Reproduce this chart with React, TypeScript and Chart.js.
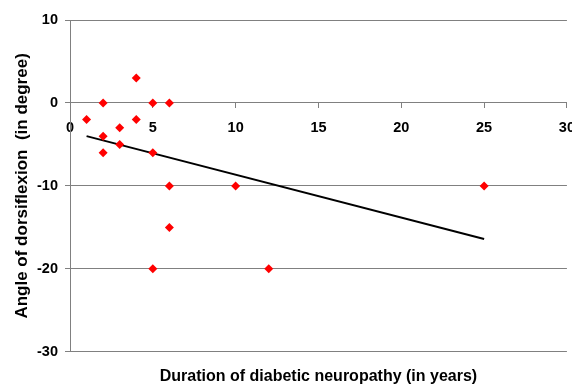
import React, { useEffect, useRef } from "react";
import { Chart, registerables } from "chart.js";

Chart.register(...registerables);

const durationYears = [1, 2, 2, 2, 3, 3, 4, 4, 5, 5, 6, 6, 10, 6, 5, 12, 25];
const dorsiflexionAngle = [-2, 0, -4, -6, -3, -5, 3, -2, 0, -6, 0, -10, -10, -15, -20, -20, -10];
const trendX = [1, 25];
const trendY = [-4.0, -16.4];
const xTicks = [0, 5, 10, 15, 20, 25, 30];
const yTicks = [10, 0, -10, -20, -30];

const FONT = "Arial, 'Liberation Sans', sans-serif";

export default function App() {
  const ref = useRef<HTMLCanvasElement | null>(null);
  useEffect(() => {
    if (!ref.current) return;
    const chart = new Chart(ref.current, {
      type: "scatter",
      data: {
        datasets: [
          {
            label: "Angle",
            data: durationYears.map((x, i) => ({ x, y: dorsiflexionAngle[i] })),
            backgroundColor: "#ff0000",
            borderColor: "#ff0000",
            pointStyle: "rectRot",
            pointRadius: 4.5,
            borderWidth: 0,
            order: 1,
          },
          {
            label: "Trend",
            data: trendX.map((x, i) => ({ x, y: trendY[i] })),
            showLine: true,
            borderColor: "#000000",
            borderWidth: 2,
            pointRadius: 0,
            order: 2,
          },
        ],
      },
      options: {
        responsive: false,
        animation: false,
        layout: { padding: { top: 20, right: 5, left: 0, bottom: 0 } },
        plugins: {
          legend: { display: false },
          tooltip: { enabled: false },
          title: {
            display: true,
            position: "bottom",
            fullSize: false,
            text: "Duration of diabetic neuropathy (in years)",
            color: "#000",
            font: { family: FONT, size: 16, weight: "700" },
            padding: { top: 15, bottom: 1 },
          },
        },
        scales: {
          x: {
            type: "linear",
            min: 0,
            max: 30,
            position: { y: 0 } as any,
            afterBuildTicks: (s: any) => {
              s.ticks = xTicks.map((v) => ({ value: v }));
            },
            ticks: {
              color: "#000",
              font: { family: FONT, size: 14.5, weight: "700" },
              padding: 11,
            },
            grid: { drawOnChartArea: false, tickLength: 5, color: "#808080" },
            border: { color: "#808080" },
          },
          y: {
            min: -30,
            max: 10,
            afterBuildTicks: (s: any) => {
              s.ticks = yTicks.map((v) => ({ value: v }));
            },
            afterFit: (s: any) => {
              s.width = 70;
            },
            ticks: {
              color: "#000",
              font: { family: FONT, size: 14.5, weight: "700" },
              padding: 7,
            },
            grid: { color: "#808080", tickLength: 5 },
            border: { color: "#808080" },
            title: {
              display: true,
              text: "Angle of dorsiflexion  (in degree)",
              color: "#000",
              font: { family: FONT, size: 17, weight: "700" },
              padding: { top: 12, bottom: 0 },
            },
          },
        },
      },
    });
    return () => chart.destroy();
  }, []);
  return (
    <div style={{ position: "absolute", left: 0, top: 0, width: 572, height: 387, overflow: "hidden" }}>
      <canvas ref={ref} width={586} height={387} />
    </div>
  );
}
